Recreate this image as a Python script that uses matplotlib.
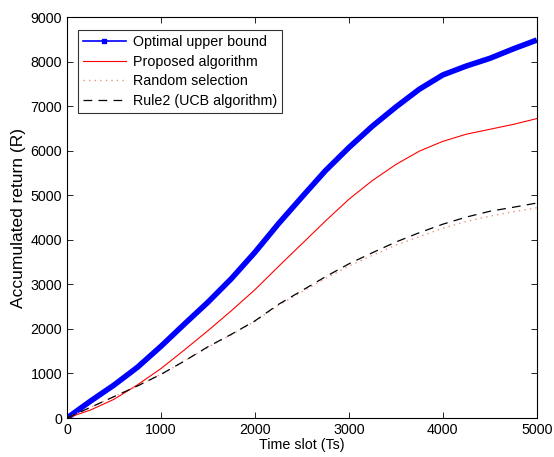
import matplotlib
matplotlib.use("Agg")
import matplotlib.pyplot as plt
from matplotlib.lines import Line2D

plt.rcParams['font.family'] = ['Liberation Sans', 'DejaVu Sans']

time_slots = [0, 250, 500, 750, 1000, 1250, 1500, 1750, 2000, 2250, 2500,
              2750, 3000, 3250, 3500, 3750, 4000, 4250, 4500, 4750, 5000]
optimal = [0, 380, 740, 1140, 1610, 2110, 2600, 3130, 3720, 4360, 4960,
           5550, 6070, 6550, 6980, 7380, 7700, 7900, 8072, 8285, 8483]
proposed = [0, 180, 420, 745, 1110, 1530, 1960, 2410, 2880, 3400, 3910,
            4420, 4910, 5330, 5690, 5990, 6210, 6370, 6480, 6590, 6720]
random_sel = [0, 240, 480, 720, 980, 1280, 1590, 1870, 2170, 2530, 2830,
              3130, 3410, 3650, 3880, 4070, 4260, 4410, 4530, 4630, 4720]
rule2 = [0, 240, 480, 720, 980, 1280, 1600, 1880, 2180, 2550, 2860,
         3170, 3460, 3710, 3950, 4160, 4350, 4510, 4640, 4730, 4825]

labels = ['Optimal upper bound', 'Proposed algorithm', 'Random selection',
          'Rule2 (UCB algorithm)']

fig = plt.figure(figsize=(5.54, 4.57), dpi=100)
ax = fig.add_axes([0.121, 0.0853, 0.848, 0.8775])

ax.plot(time_slots, optimal, color='#0000ff', lw=4.0, solid_capstyle='butt',
        solid_joinstyle='round')
ax.plot(time_slots, proposed, color='#ff0000', lw=0.8)
ax.plot(time_slots, random_sel, color='#e8967a', lw=1.0, linestyle=(0, (1, 3)))
ax.plot(time_slots, rule2, color='black', lw=0.9, linestyle=(0, (7, 5)))

ax.set_xlim(0, 5000)
ax.set_ylim(0, 9000)
ax.set_xticks(range(0, 5001, 1000))
ax.set_yticks(range(0, 9001, 1000))
ax.tick_params(direction='in', top=True, right=True, labelsize=10.3, length=4, width=0.6)
for s in ax.spines.values():
    s.set_linewidth(0.8)
ax.set_xlabel('Time slot (Ts)', fontsize=10.3, labelpad=1)
ax.set_ylabel('Accumulated return (R)', fontsize=12.5, labelpad=3)

handles = [
    Line2D([], [], color='#0000ff', lw=1.2, marker='s', markersize=2.5),
    Line2D([], [], color='#ff0000', lw=0.8),
    Line2D([], [], color='#e8967a', lw=1.0, linestyle=(0, (1, 3))),
    Line2D([], [], color='black', lw=0.9, linestyle=(0, (7, 5))),
]
leg = ax.legend(handles, labels, loc='upper left', fontsize=10.3, frameon=True,
                fancybox=False, edgecolor='black', borderpad=0.35,
                labelspacing=0.4, handlelength=3.0, handletextpad=0.5,
                bbox_to_anchor=(0.0234, 0.9676), borderaxespad=0)
leg.get_frame().set_linewidth(0.8)

fig.savefig('out.png', dpi=100)
